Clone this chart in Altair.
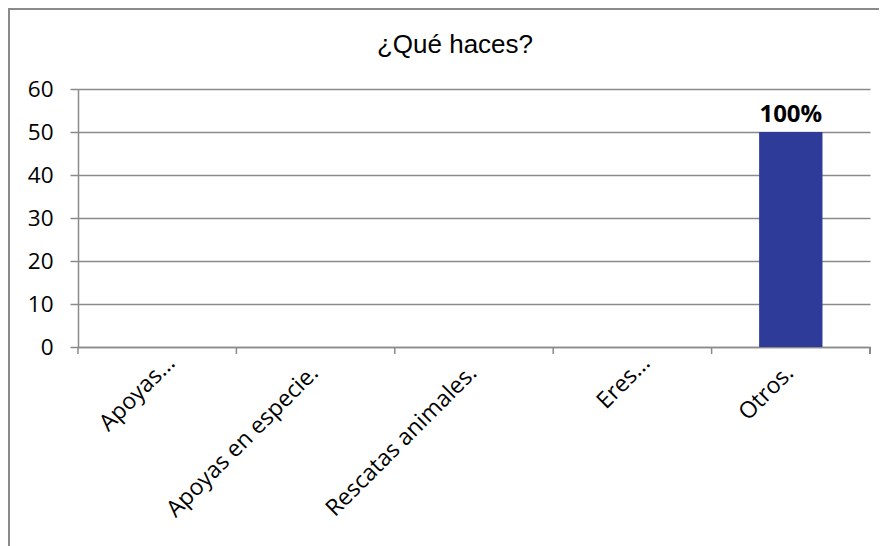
import altair as alt
import pandas as pd

title_text = "¿Qué haces?"
categories = ["Apoyas...", "Apoyas en especie.", "Rescatas animales.", "Eres...", "Otros."]
values = [0, 0, 0, 0, 50]
bar_labels = ["", "", "", "", "100%"]
y_ticks = [0, 10, 20, 30, 40, 50, 60]

df = pd.DataFrame({"cat": categories, "val": values, "lab": bar_labels})
df_title = pd.DataFrame({"t": [title_text]})

W, H = 792, 258
GRAY = "#8a8a8a"
FONT = "Open Sans"

base = alt.Chart(df)

x_enc = alt.X(
    "cat:N",
    sort=categories,
    title=None,
    scale=alt.Scale(paddingInner=0, paddingOuter=0),
    axis=alt.Axis(
        labelAngle=-45,
        labelAlign="right",
        labelBaseline="alphabetic",
        labelOffset={"expr": "indexof(datum.label, '...') >= 0 ? 19 : 4"},
        labelPadding={"expr": "indexof(datum.label, '...') >= 0 ? 17 : 27"},
        ticks=False,
        tickSize=0,
        domainColor=GRAY,
        domainWidth=1.5,
        labelFont=FONT,
        labelFontSize=23,
        labelColor="#000000",
        labelLimit=400,
    ),
)

bars = base.mark_bar(color="#2E3B98", width=alt.RelativeBandSize(0.4)).encode(
    x=x_enc,
    y=alt.Y(
        "val:Q",
        title=None,
        scale=alt.Scale(domain=[0, 60], nice=False),
        axis=alt.Axis(
            values=y_ticks,
            grid=True,
            gridColor=GRAY,
            gridWidth=1.5,
            tickSize=8,
            tickColor=GRAY,
            tickWidth=1.5,
            domainColor=GRAY,
            domainWidth=1.5,
            labelFont=FONT,
            labelFontSize=22.5,
            labelColor="#000000",
            labelPadding=17,
        ),
    ),
)

text = base.mark_text(
    font=FONT, fontSize=24, fontWeight="bold", baseline="alphabetic", dy=-10, color="#000000"
).encode(x=alt.X("cat:N", sort=categories), y="val:Q", text="lab:N")

ticks = base.mark_rule(color=GRAY, strokeWidth=1.5).encode(
    x=alt.X("cat:N", sort=categories, bandPosition=0),
    y=alt.value(H),
    y2=alt.value(H + 7),
)
last_tick = base.mark_rule(color=GRAY, strokeWidth=1.5).encode(
    x=alt.value(W), y=alt.value(H), y2=alt.value(H + 7)
)

frame = base.mark_rect(fill=None, stroke=GRAY, strokeWidth=2).encode(
    x=alt.value(-69), x2=alt.value(W + 60), y=alt.value(-80), y2=alt.value(H + 260)
)

title = alt.Chart(df_title).mark_text(
    font="Liberation Sans", fontSize=26, baseline="alphabetic", align="center", color="#000000"
).encode(text="t:N", x=alt.value(377), y=alt.value(-36))

chart = (
    alt.layer(frame, bars, text, ticks, last_tick, title)
    .properties(
        width=W,
        height=H,
        autosize=alt.AutoSizeParams(type="none"),
        padding={"left": 70, "top": 81, "right": 9, "bottom": 199},
    )
    .configure_view(stroke=None)
)

chart.save("out.html", embed_options={"renderer": "svg", "actions": False})
